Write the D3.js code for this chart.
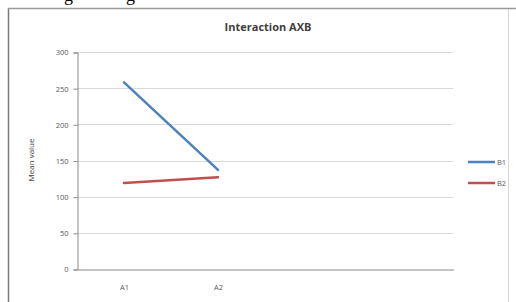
<!DOCTYPE html>
<html><head><meta charset="utf-8">
<script src="https://cdn.jsdelivr.net/npm/d3@7"></script>
<style>body{margin:0;background:#fff;}svg{display:block;}</style>
</head><body>
<script>
const categories = ["A1", "A2", "", ""];
const seriesNames = ["B1", "B2"];
const b1Values = [258, 137];
const b2Values = [119, 127];
const yTicks = [0, 50, 100, 150, 200, 250, 300];
const colors = ["#4F81BD", "#C0504D"];

const W = 516, H = 302;
const svg = d3.select("body").append("svg").attr("width", W).attr("height", H);

// cropped document text above the chart (only descenders visible, as in the reference)
svg.append("text").attr("x", 64).attr("y", 1).attr("font-family", "Liberation Serif")
  .attr("font-size", 18).attr("fill", "#000").text("g");
svg.append("text").attr("x", 126).attr("y", 1).attr("font-family", "Liberation Serif")
  .attr("font-size", 18).attr("fill", "#000").text("g");

// chart frame
svg.append("rect").attr("x", 8.5).attr("y", 8.5).attr("width", 500).attr("height", 300)
  .attr("fill", "#fff").attr("stroke", "#d6d6d6");
svg.append("line").attr("x1", 8.5).attr("x2", 8.5).attr("y1", 8).attr("y2", H).attr("stroke", "#7a7a7a").attr("stroke-width", 1.5);
svg.append("line").attr("x1", 8).attr("x2", W).attr("y1", 8.5).attr("y2", 8.5).attr("stroke", "#9a9a9a").attr("stroke-width", 1.5);

const plot = {left: 77, right: 453, top: 52, bottom: 269};

svg.append("text").attr("x", 268).attr("y", 31).attr("text-anchor", "middle")
  .attr("font-family", "Open Sans, Liberation Sans, sans-serif").attr("font-weight", "bold")
  .attr("font-size", 11).attr("fill", "#404040").text("Interaction AXB");

const x = d3.scaleBand().domain(d3.range(categories.length)).range([plot.left, plot.right]);
const y = d3.scaleLinear().domain([0, 300]).range([plot.bottom, plot.top]);

// gridlines
svg.append("g").selectAll("line").data(yTicks.filter(d => d > 0)).join("line")
  .attr("x1", plot.left).attr("x2", plot.right)
  .attr("y1", d => Math.round(y(d)) + 0.5).attr("y2", d => Math.round(y(d)) + 0.5)
  .attr("stroke", "#d9d9d9").attr("stroke-width", 1);

// y axis
const yAxis = svg.append("g").attr("transform", `translate(${plot.left + 0.5},0.5)`)
  .call(d3.axisLeft(y).tickValues(yTicks).tickSize(4).tickPadding(5));
yAxis.select(".domain").attr("stroke", "#8a8a8a");
yAxis.selectAll(".tick line").attr("stroke", "#8a8a8a");
yAxis.selectAll("text").attr("font-family", "Open Sans, Liberation Sans, sans-serif")
  .attr("font-size", 7.5).attr("fill", "#595959");

// x axis
const xAxis = svg.append("g").attr("transform", `translate(0.5,${plot.bottom + 0.5})`)
  .call(d3.axisBottom(x).tickFormat(i => categories[i]).tickSize(0).tickPadding(15));
xAxis.select(".domain").attr("stroke", "#8a8a8a");
xAxis.selectAll("text").attr("font-family", "Open Sans, Liberation Sans, sans-serif")
  .attr("font-size", 7.5).attr("fill", "#595959");

// y title
svg.append("text").attr("transform", "translate(34,160) rotate(-90)").attr("text-anchor", "middle")
  .attr("font-family", "Open Sans, Liberation Sans, sans-serif").attr("font-size", 8)
  .attr("fill", "#404040").text("Mean value");

// lines
const series = [b1Values, b2Values];
const line = d3.line().x((d, i) => x(i) + x.bandwidth() / 2).y(d => y(d));
series.forEach((vals, k) => {
  svg.append("path").datum(vals).attr("d", line).attr("fill", "none")
    .attr("stroke", colors[k]).attr("stroke-width", 2.5).attr("stroke-linecap", "round");
});

// legend
const lg = svg.append("g");
seriesNames.forEach((n, k) => {
  const ly = 162 + k * 21;
  lg.append("line").attr("x1", 468).attr("x2", 495).attr("y1", ly).attr("y2", ly)
    .attr("stroke", colors[k]).attr("stroke-width", 2.5);
  lg.append("text").attr("x", 497).attr("y", ly + 2.5)
    .attr("font-family", "Open Sans, Liberation Sans, sans-serif").attr("font-size", 7.5)
    .attr("fill", "#595959").text(n);
});
</script>
</body></html>
